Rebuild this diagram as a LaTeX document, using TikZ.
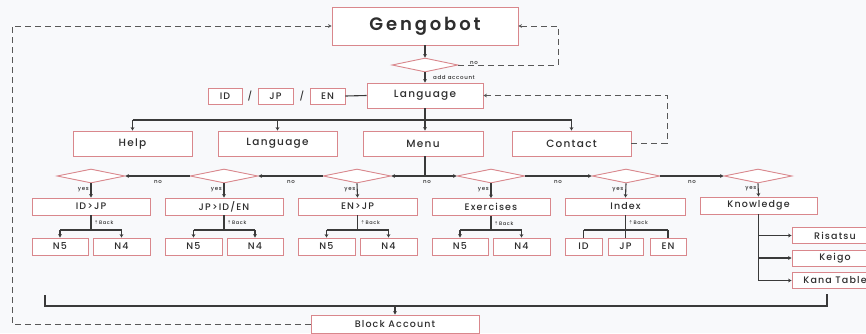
\documentclass[tikz,border=0pt]{standalone}
\usepackage{fontspec}
\setmainfont{Poppins}[LetterSpace=12, UprightFont=* Medium, BoldFont=* SemiBold]
\newfontfamily\symfont{DejaVu Sans}
\usetikzlibrary{shapes.geometric,arrows.meta}
\definecolor{boxred}{HTML}{D9878C}
\definecolor{linegray}{HTML}{3A3A3A}
\definecolor{txt}{HTML}{2E2E2E}
\definecolor{bg}{HTML}{F8F9FB}
\begin{document}
\begin{tikzpicture}[x=1pt,y=-1pt,
  box/.style={draw=boxred, line width=0.9pt, fill=white, inner sep=0pt, text=txt,
    font=\fontsize{9.5}{11}\selectfont},
  bigbox/.style={box, minimum height=25pt, font=\fontsize{10.5}{12}\selectfont},
  midbox/.style={box, minimum height=17pt, font=\fontsize{9.5}{11}\selectfont},
  leaf/.style={box, minimum height=17pt, font=\fontsize{9.5}{11}\selectfont},
  dia/.style={diamond, draw=boxred, line width=0.9pt, fill=white, inner sep=0pt,
    minimum width=68pt, minimum height=14pt},
  conn/.style={draw=linegray, line width=1.1pt},
  arr/.style={conn, -{Stealth[length=3.5pt,width=3.8pt]}},
  dashline/.style={draw=linegray!85, line width=1pt, dash pattern=on 6pt off 4pt},
  dasharr/.style={dashline, -{Stealth[length=3.5pt,width=3.8pt]}},
  lbl/.style={font=\fontsize{5.5}{6}\selectfont, text=txt, inner sep=0pt},
  backlbl/.style={font=\fontsize{5}{6}\selectfont, text=txt, inner sep=0pt, anchor=west}
]
\fill[bg] (0,0) rectangle (866,333);
\useasboundingbox (0,0) rectangle (866,333);

% top
\node[box, minimum width=186pt, minimum height=38pt, font=\fontsize{18}{21}\selectfont\bfseries\addfontfeatures{LetterSpace=16}] (gengo) at (425,26) {Gengobot};
\node[dia, minimum width=66pt] (dtop) at (425,65) {};
\node[bigbox, minimum width=116pt] (lang) at (425,95.5) {Language};
\node[midbox, minimum width=34pt, minimum height=16pt] (lid) at (225,96) {ID};
\node[midbox, minimum width=35pt, minimum height=16pt] (ljp) at (275.5,96) {JP};
\node[midbox, minimum width=35pt, minimum height=16pt] (len) at (327.5,96) {EN};
\node[text=txt, inner sep=0pt, font=\fontsize{9}{11}\selectfont] (s1) at (250,96) {/};
\node[text=txt, inner sep=0pt, font=\fontsize{9}{11}\selectfont] (s2) at (302,96) {/};

\draw[arr] (gengo.south) -- (dtop.north);
\draw[arr] (dtop.south) -- (lang.north);
\node[lbl, anchor=west] (addacc) at (433,77) {add account};
\draw[conn] (len.east) -- (lang.west);
\coordinate (rc) at (558,0);
\draw[dasharr] (dtop.east) -| (rc |- gengo.east) -- (gengo.east);
\node[lbl, fill=bg, inner xsep=1pt] (notop) at (474,63) {no};

% row 2
\node[bigbox, minimum width=119pt] (help) at (132.5,143.5) {Help};
\node[bigbox, minimum width=119pt] (lang2) at (277.5,143.5) {Language};
\node[bigbox, minimum width=120pt] (menu) at (423,143.5) {Menu};
\node[bigbox, minimum width=119pt] (contact) at (571.5,143.5) {Contact};
\coordinate (bus) at (0,120);
\draw[conn] (help.north |- bus) -- (contact.north |- bus);
\draw[arr] (lang.south) -- (lang.south |- menu.north);
\draw[arr] (help.north |- bus) -- (help.north);
\draw[arr] (lang2.north |- bus) -- (lang2.north);
\draw[arr] (contact.north |- bus) -- (contact.north);
\coordinate (cc) at (667,0);
\draw[dasharr] (contact.east) -| (cc |- lang.east) -- (lang.east);
\coordinate (lc) at (12,0);

% diamonds
\node[dia] (d1) at (91,176) {};
\node[dia] (d2) at (224,176) {};
\node[dia] (d3) at (357,176) {};
\node[dia] (d4) at (491,176) {};
\node[dia] (d5) at (626,176) {};
\node[dia] (d6) at (758,176) {};
\draw[conn] (menu.south -| lang.south) -- (lang.south |- d3.east);
\draw[arr] (lang.south |- d3.east) -- (d3.east);
\draw[arr] (lang.south |- d4.west) -- (d4.west);
\draw[arr] (d3.west) -- (d2.east);
\draw[arr] (d2.west) -- (d1.east);
\draw[arr] (d4.east) -- (d5.west);
\draw[arr] (d5.east) -- (d6.west);
\foreach \x/\n in {158/n1,291/n2,427/n3,558/n4,692/n5}
  \node[lbl] (\n) at (\x,181.5) {no};

% row 3
\node[midbox, minimum width=118pt] (b1) at (91,206.5) {ID>JP};
\node[midbox, minimum width=118pt] (b2) at (224,206.5) {JP>ID/EN};
\node[midbox, minimum width=119pt] (b3) at (357.5,206.5) {EN>JP};
\node[midbox, minimum width=118pt] (b4) at (491,207) {Exercises};
\node[midbox, minimum width=120pt] (b5) at (625.5,206.5) {Index};
\node[midbox, minimum width=117pt] (b6) at (758.5,205.5) {Knowledge};
\foreach \i in {1,...,6}{
  \draw[arr] (d\i.south) -- (b\i.north);
  \node[lbl, anchor=east] at ([xshift=-2pt,yshift=8pt]b\i.north) {yes};
}

% leaves
\coordinate (lb) at (0,230);
\node[leaf, minimum width=56pt] (a5) at (60,246.5) {N5};
\node[leaf, minimum width=57pt] (a4) at (121.5,246.5) {N4};
\node[leaf, minimum width=57pt] (c5) at (193.5,246.5) {N5};
\node[leaf, minimum width=56pt] (c4) at (255,246.5) {N4};
\node[leaf, minimum width=57pt] (e5) at (326.5,246.5) {N5};
\node[leaf, minimum width=57pt] (e4) at (388.5,246.5) {N4};
\node[leaf, minimum width=56pt] (x5) at (460,246.5) {N5};
\node[leaf, minimum width=57pt] (x4) at (521.5,246.5) {N4};
\node[leaf, minimum width=37pt] (iid) at (583.5,246.5) {ID};
\node[leaf, minimum width=35pt] (ijp) at (625.5,246.5) {JP};
\node[leaf, minimum width=36pt] (ien) at (668,246.5) {EN};

\foreach \p/\l/\r in {b1/a5/a4, b2/c5/c4, b3/e5/e4, b4/x5/x4}{
  \draw[conn] (\p.south) -- (\p.south |- lb);
  \draw[conn] (\l.north |- lb) -- (\r.north |- lb);
  \draw[arr] (\l.north |- lb) -- (\l.north);
  \draw[arr] (\r.north |- lb) -- (\r.north);
  \node[backlbl] at ([xshift=3pt,yshift=-7.5pt]\p.south) {{\symfont ⇡}\,Back};
}
\draw[conn] (b5.south) -- (b5.south |- lb);
\draw[conn] (iid.north |- lb) -- (ien.north |- lb);
\draw[conn] (iid.north |- lb) -- (iid.north);
\draw[conn] (ijp.north |- lb) -- (ijp.north);
\draw[conn] (ien.north |- lb) -- (ien.north);
\node[backlbl] at ([xshift=3pt,yshift=-7.5pt]b5.south) {{\symfont ⇡}\,Back};

% knowledge
\node[leaf, minimum width=86pt, minimum height=16pt] (ris) at (835,235.5) {Risatsu};
\node[leaf, minimum width=86pt, minimum height=16pt] (kei) at (835,258) {Keigo};
\node[leaf, minimum width=86pt, minimum height=16pt] (kana) at (835,280.5) {Kana Table};
\draw[conn] (b6.south) -- (b6.south |- kana.west);
\draw[arr] (b6.south |- ris.west) -- (ris.west);
\draw[arr] (b6.south |- kei.west) -- (kei.west);
\draw[arr] (b6.south |- kana.west) -- (kana.west);

% bottom
\node[midbox, minimum width=168pt, minimum height=18pt] (block) at (395,324) {Block Account};
\coordinate (bl) at (45,295);
\coordinate (br) at (827,294);
\coordinate (bb) at (0,306);
\draw[conn] (bl) -- (bl |- bb) -- (br |- bb) -- (br);
\draw[arr] (block.north |- bb) -- (block.north);
\draw[dasharr] (block.west) -| (lc |- gengo.west) -- (gengo.west);
\end{tikzpicture}
\end{document}
